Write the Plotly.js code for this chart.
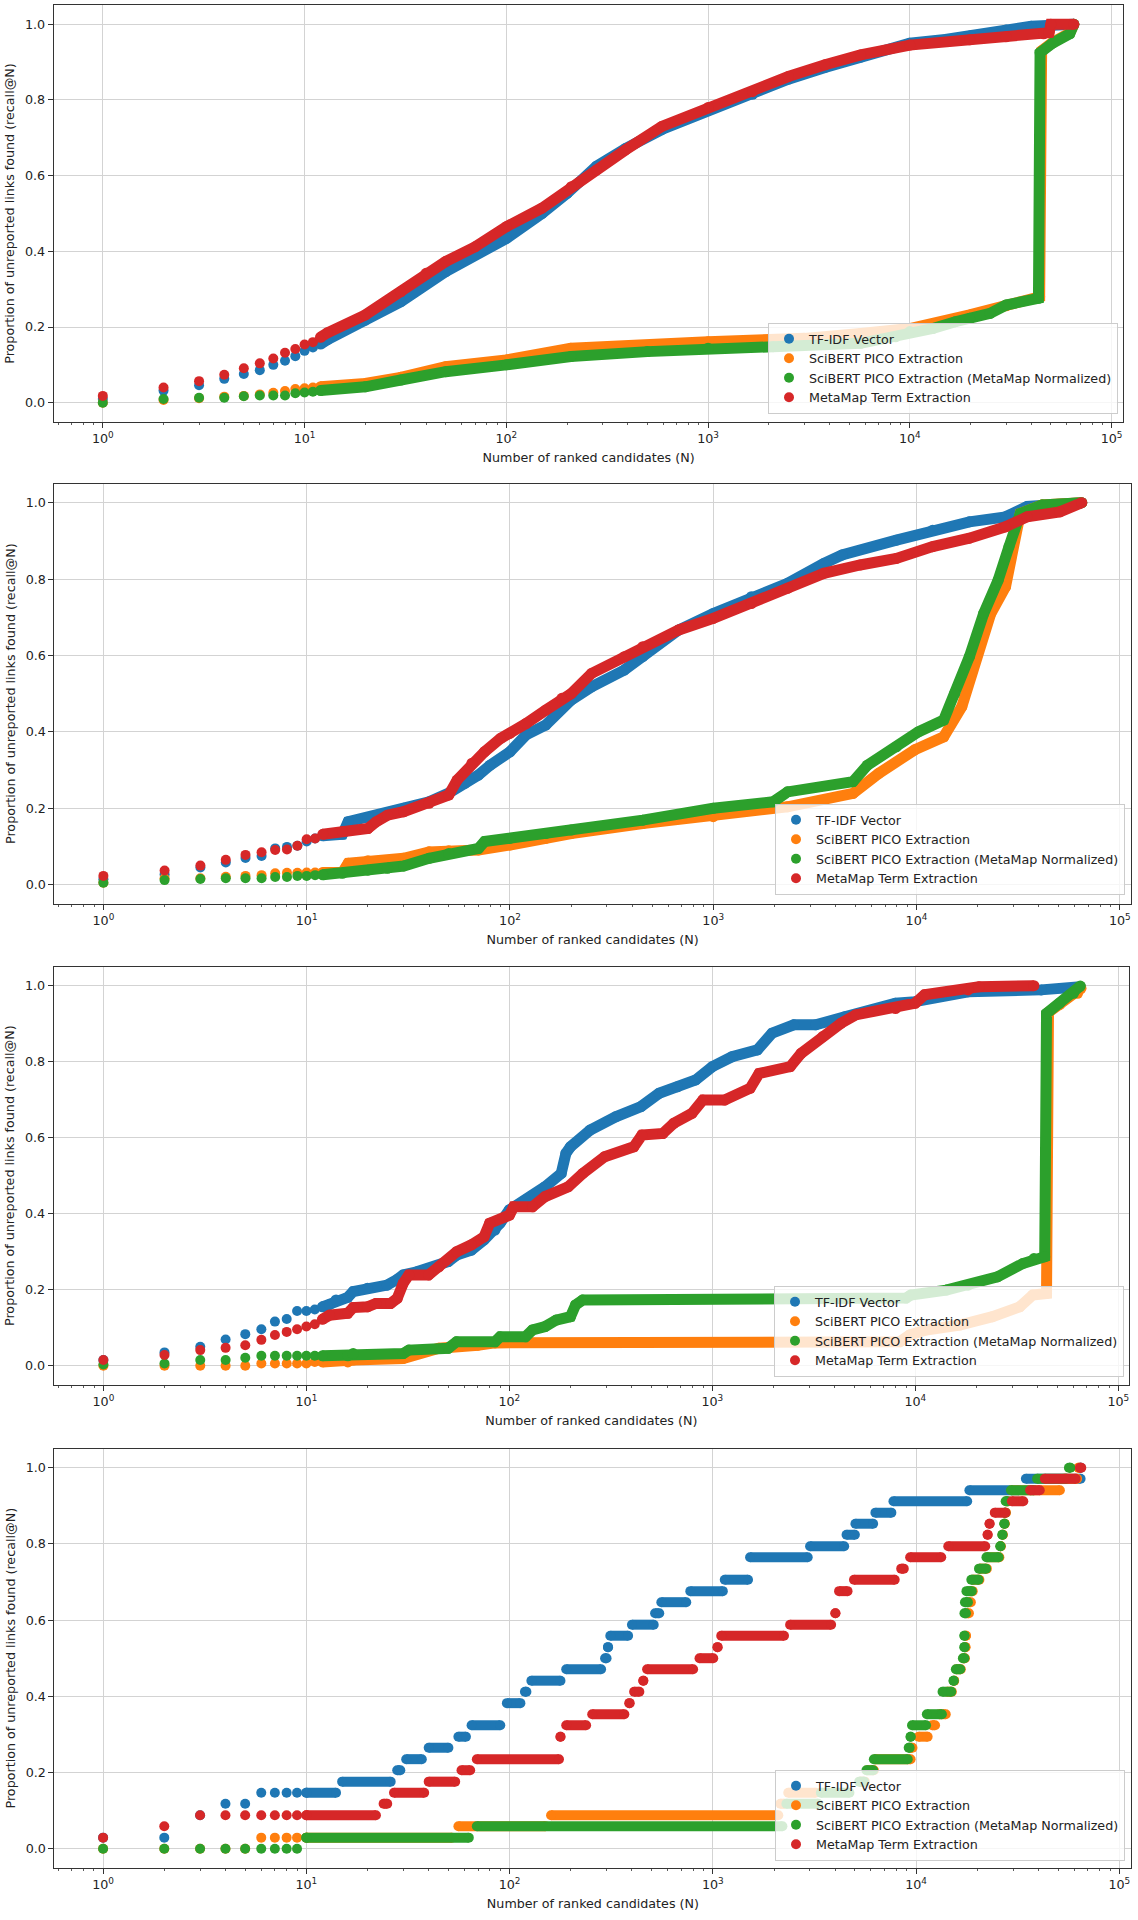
<!DOCTYPE html>
<html><head><meta charset="utf-8">
<script src="https://cdn.plot.ly/plotly-3.0.1.min.js"></script>
<style>html,body{margin:0;padding:0;background:#fff}#chart{width:1138px;height:1920px}</style>
</head><body><div id="chart"></div>
<script>
// ---------------- DATA ----------------
const seriesNames = ['TF-IDF Vector', 'SciBERT PICO Extraction', 'SciBERT PICO Extraction (MetaMap Normalized)', 'MetaMap Term Extraction'];
const xTickVals = [1, 10, 100, 1000, 10000, 100000];
const xTickText = ['10<sup>0</sup>', '10<sup>1</sup>', '10<sup>2</sup>', '10<sup>3</sup>', '10<sup>4</sup>', '10<sup>5</sup>'];
const yTickVals = [0, 0.2, 0.4, 0.6, 0.8, 1.0];
const yTickText = ['0.0', '0.2', '0.4', '0.6', '0.8', '1.0'];
const xTitle = 'Number of ranked candidates (N)';
const yTitle = 'Proportion of unreported links found (recall@N)';

// first ranks (individual points)
const rankN = [1, 2, 3, 4, 5, 6, 7, 8, 9, 10, 11, 12];
const rankN4 = [1, 2, 3, 4, 5, 6, 7, 8, 9, 10];

// ---- Panel 1 ----
const p1TfidfDots = [0.010, 0.032, 0.046, 0.063, 0.076, 0.086, 0.100, 0.111, 0.123, 0.137, 0.146, 0.155];
const p1ScibertDots = [0.000, 0.007, 0.012, 0.016, 0.018, 0.022, 0.026, 0.031, 0.036, 0.038, 0.040, 0.042];
const p1ScibertMmDots = [0.000, 0.010, 0.013, 0.013, 0.017, 0.019, 0.019, 0.019, 0.025, 0.027, 0.029, 0.032];
const p1MetamapDots = [0.018, 0.040, 0.057, 0.074, 0.091, 0.104, 0.117, 0.132, 0.142, 0.154, 0.160, 0.173];

const p1TfidfN = [12, 13, 20, 30, 50, 100, 150, 200, 280, 390, 590, 1000, 1660, 2500, 3800, 5700, 10000, 15000, 20000, 30000, 40000, 65000];
const p1TfidfR = [0.155, 0.167, 0.218, 0.267, 0.346, 0.434, 0.500, 0.553, 0.625, 0.672, 0.722, 0.772, 0.815, 0.855, 0.886, 0.913, 0.950, 0.960, 0.970, 0.985, 0.995, 1.000];
const p1ScibertN = [12, 20, 30, 50, 100, 209, 1000, 3000, 5700, 10000, 19800, 30000, 44000, 45000, 51000, 62000, 65000];
const p1ScibertR = [0.042, 0.051, 0.067, 0.095, 0.113, 0.144, 0.161, 0.170, 0.183, 0.196, 0.232, 0.256, 0.280, 0.930, 0.952, 0.977, 1.000];
const p1ScibertMmN = [12, 20, 30, 50, 100, 209, 500, 1000, 2100, 5700, 8500, 10000, 13000, 16800, 19800, 25000, 30000, 43400, 44200, 51000, 62000, 65000];
const p1ScibertMmR = [0.032, 0.042, 0.060, 0.082, 0.100, 0.122, 0.135, 0.144, 0.148, 0.157, 0.174, 0.188, 0.196, 0.214, 0.223, 0.236, 0.258, 0.276, 0.925, 0.950, 0.975, 1.000];
const p1MetamapN = [12, 13, 20, 30, 40, 50, 70, 100, 150, 210, 280, 390, 590, 1000, 1660, 2500, 3800, 5700, 10000, 19800, 30000, 46000, 49000, 50000, 65000];
const p1MetamapR = [0.173, 0.185, 0.232, 0.293, 0.342, 0.373, 0.412, 0.465, 0.514, 0.571, 0.615, 0.668, 0.730, 0.780, 0.822, 0.862, 0.893, 0.919, 0.945, 0.959, 0.967, 0.975, 0.978, 1.000, 1.000];

// ---- Panel 2 ----
const p2TfidfDots = [0.014, 0.027, 0.045, 0.058, 0.070, 0.075, 0.095, 0.099, 0.102, 0.113, 0.121, 0.128];
const p2ScibertDots = [0.005, 0.017, 0.017, 0.021, 0.023, 0.025, 0.030, 0.031, 0.031, 0.032, 0.032, 0.032];
const p2ScibertMmDots = [0.005, 0.012, 0.015, 0.017, 0.017, 0.017, 0.020, 0.020, 0.023, 0.023, 0.025, 0.026];
const p2MetamapDots = [0.023, 0.037, 0.050, 0.065, 0.078, 0.085, 0.091, 0.092, 0.102, 0.119, 0.121, 0.132];

const p2TfidfN = [12, 15, 16, 20, 25, 30, 40, 50, 60, 70, 80, 100, 120, 150, 200, 252, 365, 450, 677, 1000, 1540, 2320, 3500, 4300, 7960, 12000, 18200, 27400, 35000, 65000];
const p2TfidfR = [0.128, 0.132, 0.165, 0.176, 0.187, 0.200, 0.217, 0.240, 0.265, 0.287, 0.313, 0.348, 0.392, 0.418, 0.483, 0.518, 0.562, 0.597, 0.667, 0.710, 0.754, 0.789, 0.841, 0.863, 0.902, 0.928, 0.950, 0.963, 0.990, 1.000];
const p2ScibertN = [12, 15, 16, 20, 30, 40, 50, 70, 100, 150, 200, 450, 1000, 2320, 4870, 6500, 9800, 13600, 16700, 19700, 23200, 27400, 32400, 41500, 65000];
const p2ScibertR = [0.032, 0.032, 0.056, 0.063, 0.069, 0.086, 0.089, 0.091, 0.104, 0.121, 0.134, 0.160, 0.178, 0.204, 0.239, 0.291, 0.353, 0.387, 0.466, 0.597, 0.710, 0.780, 0.972, 0.994, 1.000];
const p2ScibertMmN = [12, 15, 20, 25, 30, 40, 50, 70, 75, 100, 150, 200, 450, 1000, 1970, 2320, 4870, 5740, 7960, 10200, 13600, 15400, 18200, 21400, 25200, 28500, 32400, 41500, 65000];
const p2ScibertMmR = [0.026, 0.030, 0.038, 0.043, 0.049, 0.069, 0.082, 0.095, 0.113, 0.121, 0.134, 0.143, 0.169, 0.200, 0.217, 0.243, 0.270, 0.313, 0.361, 0.400, 0.431, 0.500, 0.597, 0.710, 0.797, 0.885, 0.972, 0.994, 1.000];
const p2MetamapN = [12, 15, 20, 22, 25, 30, 40, 50, 55, 65, 75, 90, 100, 120, 150, 180, 200, 252, 365, 450, 677, 1000, 1540, 2320, 3500, 5280, 7960, 12000, 18200, 27400, 35000, 50700, 65000];
const p2MetamapR = [0.132, 0.139, 0.147, 0.165, 0.182, 0.191, 0.213, 0.235, 0.274, 0.318, 0.348, 0.383, 0.396, 0.422, 0.457, 0.488, 0.500, 0.553, 0.597, 0.623, 0.667, 0.697, 0.736, 0.776, 0.815, 0.837, 0.854, 0.885, 0.907, 0.937, 0.963, 0.976, 1.000];

// ---- Panel 3 ----
const p3TfidfDots = [0.015, 0.035, 0.050, 0.069, 0.083, 0.096, 0.116, 0.123, 0.144, 0.144, 0.148, 0.155];
const p3ScibertDots = [0.000, 0.000, 0.000, 0.000, 0.000, 0.006, 0.006, 0.006, 0.006, 0.006, 0.010, 0.010];
const p3ScibertMmDots = [0.003, 0.006, 0.015, 0.015, 0.021, 0.026, 0.026, 0.026, 0.026, 0.026, 0.026, 0.026];
const p3MetamapDots = [0.015, 0.028, 0.041, 0.047, 0.054, 0.068, 0.081, 0.089, 0.096, 0.103, 0.109, 0.122];

const p3TfidfN = [12, 13, 14, 16, 17, 20, 25, 28, 30, 35, 40, 50, 55, 65, 75, 85, 90, 100, 120, 150, 180, 190, 200, 250, 334, 445, 547, 673, 828, 1000, 1250, 1667, 1970, 2520, 3230, 4490, 7990, 10000, 14900, 18200, 41700, 65000];
const p3TfidfR = [0.155, 0.161, 0.173, 0.180, 0.195, 0.204, 0.212, 0.227, 0.239, 0.247, 0.256, 0.274, 0.291, 0.304, 0.331, 0.357, 0.375, 0.410, 0.436, 0.471, 0.506, 0.559, 0.576, 0.620, 0.655, 0.682, 0.717, 0.734, 0.752, 0.787, 0.813, 0.831, 0.875, 0.897, 0.897, 0.918, 0.954, 0.958, 0.980, 0.984, 0.989, 0.997];
const p3ScibertN = [12, 16, 17, 30, 35, 45, 70, 85, 8370, 9370, 11300, 16550, 24000, 32700, 37900, 44300, 45300, 51400, 63000, 65500];
const p3ScibertR = [0.010, 0.010, 0.015, 0.019, 0.032, 0.046, 0.054, 0.060, 0.063, 0.081, 0.094, 0.107, 0.129, 0.155, 0.186, 0.190, 0.930, 0.950, 0.980, 0.993];
const p3ScibertMmN = [12, 16, 17, 30, 32, 50, 55, 85, 90, 120, 130, 150, 170, 200, 212, 230, 9000, 9500, 14200, 18200, 25400, 33900, 38400, 43400, 44300, 51400, 60200, 65000];
const p3ScibertMmR = [0.026, 0.026, 0.032, 0.032, 0.041, 0.046, 0.063, 0.063, 0.076, 0.076, 0.094, 0.103, 0.120, 0.129, 0.160, 0.173, 0.178, 0.186, 0.199, 0.212, 0.234, 0.269, 0.282, 0.287, 0.927, 0.954, 0.980, 0.999];
const p3MetamapN = [12, 13, 16, 17, 20, 22, 26, 28, 30, 32, 40, 45, 55, 65, 75, 80, 100, 105, 130, 150, 195, 230, 295, 410, 450, 570, 646, 793, 898, 1150, 1535, 1700, 2420, 2740, 3500, 4300, 5080, 7990, 10000, 11100, 18200, 20600, 38400];
const p3MetamapR = [0.122, 0.133, 0.138, 0.153, 0.155, 0.164, 0.164, 0.177, 0.217, 0.239, 0.239, 0.260, 0.300, 0.318, 0.339, 0.375, 0.396, 0.418, 0.418, 0.445, 0.471, 0.506, 0.550, 0.576, 0.607, 0.611, 0.638, 0.664, 0.699, 0.699, 0.730, 0.769, 0.787, 0.822, 0.866, 0.901, 0.923, 0.940, 0.954, 0.976, 0.989, 0.997, 1.000];

// ---- Panel 4 (runs of equal recall: start rank, end rank, recall) ----
const p4TfidfDots = [0.029, 0.029, 0.088, 0.118, 0.118, 0.147, 0.147, 0.147, 0.147, 0.147];
const p4ScibertDots = [0, 0, 0, 0, 0, 0.029, 0.029, 0.029, 0.029, 0.029];
const p4ScibertMmDots = [0, 0, 0, 0, 0, 0, 0, 0, 0, 0.029];
const p4MetamapDots = [0.029, 0.059, 0.088, 0.088, 0.088, 0.088, 0.088, 0.088, 0.088, 0.088];

const p4TfidfStart = [10, 15, 28, 31, 40, 56, 65, 97, 119, 128, 190, 295, 305, 313, 400, 520, 558, 775, 1145, 1525, 3010, 4550, 5030, 6310, 7740, 18300, 34700, 64500];
const p4TfidfEnd   = [14, 26, 29, 37, 50, 61, 90, 113, 121, 178, 282, 300, 305, 383, 512, 545, 740, 1120, 1490, 2930, 4430, 5000, 6150, 7560, 17850, 32000, 64500, 64500];
const p4TfidfVal   = [0.147, 0.176, 0.206, 0.235, 0.265, 0.294, 0.324, 0.382, 0.412, 0.441, 0.471, 0.500, 0.529, 0.559, 0.588, 0.618, 0.647, 0.676, 0.706, 0.765, 0.794, 0.824, 0.853, 0.882, 0.912, 0.941, 0.971, 1.000];

const p4ScibertStart = [10, 56, 160, 2150, 2350, 5300, 5750, 6300, 9400, 10300, 12000, 13000, 14200, 15400, 15800, 17100, 17500, 17600, 17700, 18000, 18500, 19000, 20600, 22400, 26100, 26700, 27300, 27500, 27900, 29600, 53500, 63000];
const p4ScibertEnd   = [52, 150, 2100, 2250, 3200, 5600, 6200, 9400, 9600, 11400, 12400, 14000, 15000, 15400, 16600, 17400, 17500, 17600, 18200, 18600, 19000, 20500, 22300, 25700, 26100, 26700, 27300, 27700, 28500, 51000, 62000, 63000];
const p4ScibertVal   = [0.029, 0.059, 0.088, 0.118, 0.147, 0.176, 0.206, 0.235, 0.265, 0.294, 0.324, 0.353, 0.412, 0.441, 0.471, 0.500, 0.529, 0.559, 0.618, 0.647, 0.676, 0.706, 0.735, 0.765, 0.794, 0.824, 0.853, 0.882, 0.912, 0.941, 0.971, 1.000];

const p4ScibertMmStart = [10, 69, 2300, 3400, 5250, 5700, 6200, 9200, 9400, 9550, 11300, 13500, 15300, 15700, 17000, 17300, 17300, 17300, 17400, 17700, 18700, 20400, 22200, 26000, 26600, 27200, 27300, 27600, 29300, 39400, 56500];
const p4ScibertMmEnd   = [63, 2200, 3300, 4700, 5550, 6150, 9100, 9300, 9400, 11200, 13400, 14900, 15300, 16500, 17300, 17300, 17300, 17600, 18000, 18800, 20300, 22100, 25500, 26000, 26600, 27200, 27500, 28200, 38000, 55000, 57500];
const p4ScibertMmVal   = [0.029, 0.059, 0.118, 0.147, 0.176, 0.206, 0.235, 0.265, 0.294, 0.324, 0.353, 0.412, 0.441, 0.471, 0.500, 0.529, 0.559, 0.618, 0.647, 0.676, 0.706, 0.735, 0.765, 0.794, 0.824, 0.853, 0.882, 0.912, 0.941, 0.971, 1.000];

const p4MetamapStart = [10, 24, 27, 40, 58, 69, 178, 190, 255, 388, 410, 455, 475, 860, 1055, 1100, 2400, 4010, 4180, 4950, 8450, 9350, 14400, 22500, 23000, 24400, 29600, 36400, 43000, 64000];
const p4MetamapEnd   = [22, 25, 38, 54, 64, 175, 178, 238, 367, 390, 435, 455, 800, 1005, 1055, 2240, 3820, 4010, 4600, 7850, 8700, 13300, 21900, 22500, 23000, 27500, 33700, 40600, 61000, 65000];
const p4MetamapVal   = [0.088, 0.118, 0.147, 0.176, 0.206, 0.235, 0.294, 0.324, 0.353, 0.382, 0.412, 0.441, 0.471, 0.500, 0.529, 0.559, 0.588, 0.618, 0.676, 0.706, 0.735, 0.765, 0.794, 0.824, 0.853, 0.882, 0.912, 0.941, 0.971, 1.000];

// ---------------- STYLE / LAYOUT ----------------
const colors = ['#1f77b4', '#ff7f0e', '#2ca02c', '#d62728'];
const FONT = 'DejaVu Sans';
const FS = 12.7;
const W = 1138, H = 1920;
const DOT = 10, BAND = 11, RUN = 10;
// pixel geometry of each panel (frame left/right, positions of 10^0 and 10^5, of recall 1.0 and 0.0, legend corner)
const geo = [
  {L: 53.7, R: 1123.4, p0: 102.8, p5: 1111.6, y1: 24.3, y0: 402.7, legR: 1118, legB: 414},
  {L: 54.4, R: 1130.7, p0: 103.4, p5: 1119.8, y1: 502.7, y0: 884.7, legR: 1125, legB: 895},
  {L: 53.7, R: 1128.9, p0: 103.4, p5: 1118.3, y1: 985.7, y0: 1365.7, legR: 1124, legB: 1377},
  {L: 54.4, R: 1131.4, p0: 103.1, p5: 1119.3, y1: 1467.7, y0: 1848.7, legR: 1125, legB: 1861}
];

const minorVals = [];
for (let e = -1; e <= 4; e++) for (let m = 2; m <= 9; m++) minorVals.push(m * Math.pow(10, e));

function segXY(s, e, v) {
  const x = [], y = [];
  for (let k = 0; k < s.length; k++) { x.push(s[k], e[k], null); y.push(v[k], v[k], null); }
  return {x, y};
}

const panelData = [
  {dotN: rankN, w: BAND, dots: [p1TfidfDots, p1ScibertDots, p1ScibertMmDots, p1MetamapDots],
   lines: [{x: p1TfidfN, y: p1TfidfR}, {x: p1ScibertN, y: p1ScibertR}, {x: p1ScibertMmN, y: p1ScibertMmR}, {x: p1MetamapN, y: p1MetamapR}]},
  {dotN: rankN, w: BAND, dots: [p2TfidfDots, p2ScibertDots, p2ScibertMmDots, p2MetamapDots],
   lines: [{x: p2TfidfN, y: p2TfidfR}, {x: p2ScibertN, y: p2ScibertR}, {x: p2ScibertMmN, y: p2ScibertMmR}, {x: p2MetamapN, y: p2MetamapR}]},
  {dotN: rankN, w: BAND, dots: [p3TfidfDots, p3ScibertDots, p3ScibertMmDots, p3MetamapDots],
   lines: [{x: p3TfidfN, y: p3TfidfR}, {x: p3ScibertN, y: p3ScibertR}, {x: p3ScibertMmN, y: p3ScibertMmR}, {x: p3MetamapN, y: p3MetamapR}]},
  {dotN: rankN4, w: RUN, dots: [p4TfidfDots, p4ScibertDots, p4ScibertMmDots, p4MetamapDots],
   lines: [segXY(p4TfidfStart, p4TfidfEnd, p4TfidfVal), segXY(p4ScibertStart, p4ScibertEnd, p4ScibertVal),
           segXY(p4ScibertMmStart, p4ScibertMmEnd, p4ScibertMmVal), segXY(p4MetamapStart, p4MetamapEnd, p4MetamapVal)]}
];

const data = [];
const layout = {
  width: W, height: H, margin: {l: 0, r: 0, t: 0, b: 0},
  paper_bgcolor: '#ffffff', plot_bgcolor: '#ffffff', hovermode: false,
  font: {family: FONT, size: FS, color: '#222222'}
};

panelData.forEach((pd, i) => {
  const sfx = i === 0 ? '' : String(i + 1);
  const g = geo[i];
  for (let s = 0; s < 4; s++) {
    data.push({type: 'scatter', mode: 'markers', x: pd.dotN, y: pd.dots[s],
      xaxis: 'x' + sfx, yaxis: 'y' + sfx, legend: 'legend' + sfx,
      name: seriesNames[s], showlegend: true,
      marker: {color: colors[s], size: DOT, line: {width: 0}}, hoverinfo: 'skip'});
    data.push({type: 'scatter', mode: 'lines+markers', x: pd.lines[s].x, y: pd.lines[s].y,
      xaxis: 'x' + sfx, yaxis: 'y' + sfx, legend: 'legend' + sfx,
      name: seriesNames[s], showlegend: false, connectgaps: false,
      line: {color: colors[s], width: pd.w}, marker: {color: colors[s], size: pd.w, line: {width: 0}},
      hoverinfo: 'skip'});
  }
  const d = (g.p5 - g.p0) / 5;
  const span = g.y0 - g.y1;
  const topPx = g.y1 - 0.05 * span, botPx = g.y0 + 0.05 * span;
  const tickFont = {family: FONT, size: FS, color: '#222222'};
  layout['xaxis' + sfx] = {
    type: 'log', domain: [g.L / W, g.R / W], range: [(g.L - g.p0) / d, (g.R - g.p0) / d],
    anchor: 'y' + sfx, tickmode: 'array', tickvals: xTickVals, ticktext: xTickText,
    ticks: 'outside', ticklen: 5, tickwidth: 1, tickcolor: '#333333',
    showgrid: true, gridcolor: '#d3d3d3', gridwidth: 1,
    showline: true, linecolor: '#333333', linewidth: 1, mirror: true, zeroline: false,
    tickfont: tickFont, automargin: false, fixedrange: true,
    minor: {tickmode: 'array', tickvals: minorVals, ticks: 'outside', ticklen: 2.5, tickwidth: 0.8, tickcolor: '#333333', showgrid: false},
    title: {text: xTitle, font: {family: FONT, size: FS, color: '#222222'}, standoff: 8}
  };
  layout['yaxis' + sfx] = {
    domain: [1 - botPx / H, 1 - topPx / H], range: [-0.05, 1.05],
    anchor: 'x' + sfx, tickmode: 'array', tickvals: yTickVals, ticktext: yTickText,
    ticks: 'outside', ticklen: 5, tickwidth: 1, tickcolor: '#333333',
    showgrid: true, gridcolor: '#d3d3d3', gridwidth: 1,
    showline: true, linecolor: '#333333', linewidth: 1, mirror: true, zeroline: false,
    tickfont: tickFont, automargin: false, fixedrange: true,
    title: {text: yTitle, font: {family: FONT, size: FS, color: '#222222'}, standoff: 7}
  };
  layout['legend' + sfx] = {
    x: g.legR / W, xanchor: 'right', y: 1 - g.legB / H, yanchor: 'bottom',
    xref: 'paper', yref: 'paper',
    bgcolor: 'rgba(255,255,255,0.8)', bordercolor: '#cccccc', borderwidth: 1,
    font: {family: FONT, size: FS, color: '#222222'}, tracegroupgap: 0, itemwidth: 30
  };
});

Plotly.newPlot('chart', data, layout, {displayModeBar: false, staticPlot: true});
</script>
</body></html>
